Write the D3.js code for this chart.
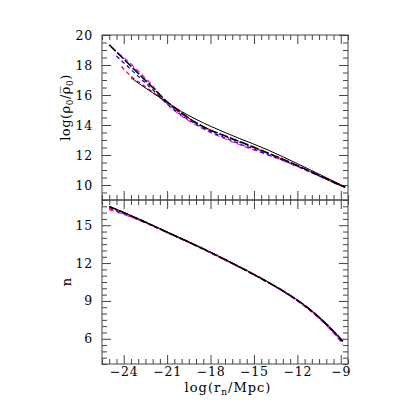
<!DOCTYPE html>
<html>
<head>
<meta charset="utf-8">
<title>density profiles</title>
<script src="https://d3js.org/d3.v7.min.js"></script>
<style>
  body { margin: 0; background: #fff; }
  text { font-family: "DejaVu Serif", "Liberation Serif", serif; fill: #000; }
</style>
</head>
<body>
<script>
// ---- data ----
// top panel: log(rho0 / mean rho0) vs log(r_n/Mpc)
let topSolidX = [-23.5, -23, -22, -21, -20, -19, -18, -17, -16, -15, -14, -13, -12, -11, -10, -9, -8.7];
let topSolidY = [17.15, 16.8, 16.15, 15.52, 14.9, 14.38, 13.92, 13.5, 13.1, 12.72, 12.32, 11.88, 11.42, 10.96, 10.49, 10.02, 9.88];
let topDashX = [-25, -24, -23, -22, -21, -20, -19, -18, -17, -16, -15, -14, -13, -12, -11, -10, -9, -8.7];
let topDashY = [19.35, 18.4, 17.45, 16.5, 15.55, 14.8, 14.15, 13.65, 13.28, 12.9, 12.52, 12.12, 11.72, 11.3, 10.86, 10.41, 9.98, 9.85];
let topRedX = [-24.15, -23.5, -23, -22, -21, -20, -19, -18, -17, -16, -15, -14, -13, -12, -11, -10, -9, -8.7];
let topRedY = [17.9, 17.25, 16.9, 16.2, 15.45, 14.75, 14.15, 13.65, 13.25, 12.85, 12.48, 12.1, 11.7, 11.28, 10.85, 10.4, 9.98, 9.85];
let topBlueX = [-24.5, -24, -23, -22, -21, -20, -19, -18, -17, -16, -15, -14, -13, -12, -11, -10, -9, -8.7];
let topBlueY = [18.6, 18.15, 17.25, 16.35, 15.4, 14.65, 14.05, 13.55, 13.15, 12.75, 12.4, 12.02, 11.65, 11.25, 10.83, 10.4, 9.97, 9.85];
let topMagX = [-24.4, -24, -23, -22, -21, -20, -19, -18, -17, -16, -15, -14, -13, -12, -11, -10, -9, -8.7];
let topMagY = [18.8, 18.5, 17.6, 16.62, 15.4, 14.6, 14.0, 13.5, 13.08, 12.68, 12.33, 11.98, 11.62, 11.23, 10.8, 10.38, 9.95, 9.85];

// bottom panel: n vs log(r_n/Mpc)
let botX = [-25, -24, -23, -22, -21, -20, -19, -18, -17, -16, -15, -14, -13, -12, -11, -10, -9.3, -8.85];
let botSolidY = [16.5, 16.02, 15.52, 15.0, 14.47, 13.95, 13.42, 12.87, 12.3, 11.72, 11.12, 10.49, 9.82, 9.08, 8.22, 7.2, 6.38, 5.82];
let botDashY = [16.47, 16.0, 15.5, 14.98, 14.45, 13.93, 13.4, 12.85, 12.28, 11.7, 11.1, 10.47, 9.8, 9.06, 8.2, 7.17, 6.35, 5.78];
let botRedY = [16.38, 15.95, 15.47, 14.96, 14.43, 13.91, 13.38, 12.83, 12.26, 11.68, 11.08, 10.45, 9.78, 9.04, 8.17, 7.14, 6.3, 5.72];
let botBlueY = [16.33, 15.92, 15.45, 14.95, 14.42, 13.9, 13.37, 12.82, 12.25, 11.67, 11.07, 10.44, 9.77, 9.02, 8.15, 7.11, 6.26, 5.65];
let botMagY = [16.22, 15.86, 15.42, 14.93, 14.41, 13.89, 13.36, 12.81, 12.24, 11.66, 11.06, 10.43, 9.76, 9.0, 8.12, 7.07, 6.2, 5.55];

let xTicks = [-24, -21, -18, -15, -12, -9];
let topTicks = [10, 12, 14, 16, 18, 20];
let botTicks = [6, 9, 12, 15];

// ---- layout ----
let W = 415, H = 415;
let pLeft = 102, pRight = 348, pTop = 35, pMid = 200, pBottom = 364;

let svg = d3.select('body').append('svg').attr('width', W).attr('height', H);

let x = d3.scaleLinear().domain([-25.5, -8.5]).range([pLeft, pRight]);
let yTop = d3.scaleLinear().domain([9, 20]).range([pMid, pTop]);
let yBot = d3.scaleLinear().domain([4, 17]).range([pBottom, pMid]);

function minor(lo, hi, step, majors) {
    return d3.range(lo, hi + 1e-9, step).filter(v => !majors.some(m => Math.abs(m - v) < 1e-6));
}
let xMinor = minor(-25.5, -8.5, 0.5, xTicks);
let topMinor = minor(9, 20, 0.5, topTicks);
let botMinor = minor(4, 17, 0.5, botTicks);

let frameColor = '#444';

function tickAxis(axis, tx, ty) {
    let g = svg.append('g').attr('transform', `translate(${tx},${ty})`).call(axis);
    g.select('.domain').remove();
    g.selectAll('line').attr('stroke', frameColor);
    g.selectAll('text').attr('font-family', '"DejaVu Serif", serif').attr('font-size', 12.5)
        .attr('letter-spacing', 0.8).attr('fill', '#000');
    return g;
}

// x ticks on the four horizontal edges, all pointing into their panel
// (axisTop with negative size points down, axisBottom with negative size points up)
[[pTop, d3.axisTop], [pMid, d3.axisBottom], [pMid, d3.axisTop], [pBottom, d3.axisBottom]].forEach(([yy, mk]) => {
    tickAxis(mk(x).tickValues(xTicks).tickSize(-9).tickFormat(''), 0, yy);
    tickAxis(mk(x).tickValues(xMinor).tickSize(-5).tickFormat(''), 0, yy);
});
// labels on the bottom axis
tickAxis(d3.axisBottom(x).tickValues(xTicks).tickSize(0).tickPadding(3)
    .tickFormat(d3.format('d')), 0, pBottom);

// y ticks, top panel
tickAxis(d3.axisLeft(yTop).tickValues(topTicks).tickSize(-9).tickPadding(9).tickFormat(d3.format('d')), pLeft, 0);
tickAxis(d3.axisLeft(yTop).tickValues(topMinor).tickSize(-5).tickFormat(''), pLeft, 0);
tickAxis(d3.axisRight(yTop).tickValues(topTicks).tickSize(-9).tickFormat(''), pRight, 0);
tickAxis(d3.axisRight(yTop).tickValues(topMinor).tickSize(-5).tickFormat(''), pRight, 0);
// y ticks, bottom panel
tickAxis(d3.axisLeft(yBot).tickValues(botTicks).tickSize(-9).tickPadding(9).tickFormat(d3.format('d')), pLeft, 0);
tickAxis(d3.axisLeft(yBot).tickValues(botMinor).tickSize(-5).tickFormat(''), pLeft, 0);
tickAxis(d3.axisRight(yBot).tickValues(botTicks).tickSize(-9).tickFormat(''), pRight, 0);
tickAxis(d3.axisRight(yBot).tickValues(botMinor).tickSize(-5).tickFormat(''), pRight, 0);

// frames
svg.append('rect').attr('x', pLeft).attr('y', pTop).attr('width', pRight - pLeft).attr('height', pMid - pTop)
    .attr('fill', 'none').attr('stroke', frameColor).attr('stroke-width', 1);
svg.append('rect').attr('x', pLeft).attr('y', pMid).attr('width', pRight - pLeft).attr('height', pBottom - pMid)
    .attr('fill', 'none').attr('stroke', frameColor).attr('stroke-width', 1);

// curves
function zip(xs, ys) { return xs.map((v, i) => [v, ys[i]]); }

let topSeries = [
    {pts: zip(topMagX, topMagY), color: '#ff00ff', dash: '5,3', w: 1.2},
    {pts: zip(topBlueX, topBlueY), color: '#0000ff', dash: '4,3', w: 1.2},
    {pts: zip(topRedX, topRedY), color: '#ff0000', dash: '4,3', w: 1.2},
    {pts: zip(topSolidX, topSolidY), color: '#000', dash: null, w: 1},
    {pts: zip(topDashX, topDashY), color: '#000', dash: '9,2', w: 1.6}
];
let botSeries = [
    {pts: zip(botX, botMagY), color: '#ff00ff', dash: '5,3', w: 1.2},
    {pts: zip(botX, botBlueY), color: '#0000ff', dash: '4,3', w: 1.2},
    {pts: zip(botX, botRedY), color: '#ff0000', dash: '4,3', w: 1.2},
    {pts: zip(botX, botSolidY), color: '#000', dash: null, w: 1},
    {pts: zip(botX, botDashY), color: '#000', dash: '9,2', w: 1.6}
];

function drawSeries(series, y) {
    let line = d3.line().x(d => x(d[0])).y(d => y(d[1])).curve(d3.curveMonotoneX);
    svg.append('g').selectAll('path').data(series).enter()
        .append('path')
        .attr('d', d => line(d.pts))
        .attr('fill', 'none')
        .attr('stroke', d => d.color)
        .attr('stroke-width', d => d.w)
        .attr('stroke-dasharray', d => d.dash);
}
drawSeries(topSeries, yTop);
drawSeries(botSeries, yBot);

// axis titles
let xl = svg.append('text').attr('x', (pLeft + pRight) / 2 + 3).attr('y', 392)
    .attr('text-anchor', 'middle').attr('font-size', 13).attr('letter-spacing', 1);
xl.append('tspan').text('log(r');
xl.append('tspan').attr('font-size', 9).attr('dy', 3).text('n');
xl.append('tspan').attr('dy', -3).text('/Mpc)');

let yl = svg.append('text').attr('transform', `translate(70,${(pTop + pMid) / 2 - 10}) rotate(-90)`)
    .attr('text-anchor', 'middle').attr('font-size', 13).attr('letter-spacing', 0.5);
yl.append('tspan').text('log(\u03C1');
yl.append('tspan').attr('font-size', 9).attr('dy', 3).text('0');
yl.append('tspan').attr('dy', -3).text('/\u03C1\u0305');
yl.append('tspan').attr('font-size', 9).attr('dy', 3).text('0');
yl.append('tspan').attr('dy', -3).text(')');

svg.append('text').attr('transform', `translate(71,${(pMid + pBottom) / 2}) rotate(-90)`)
    .attr('text-anchor', 'middle').attr('font-size', 13).text('n');
</script>
</body>
</html>
